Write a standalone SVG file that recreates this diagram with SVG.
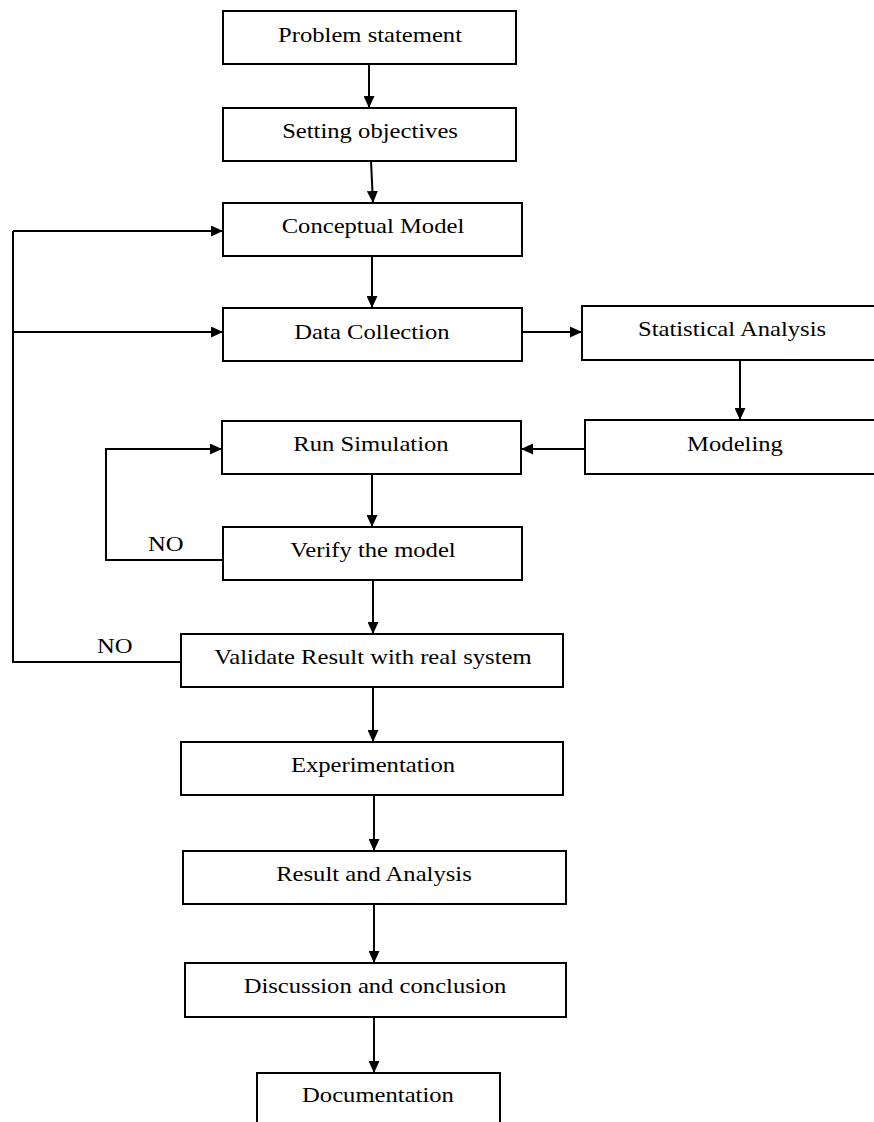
<svg xmlns="http://www.w3.org/2000/svg" width="874" height="1122" viewBox="0 0 874 1122">
<defs>
<marker id="ah" markerWidth="12" markerHeight="11" refX="12" refY="5.5" orient="auto" markerUnits="userSpaceOnUse">
<path d="M0,0 L12,5.5 L0,11 Z" fill="#000"/>
</marker>
<style>
.box{fill:#fff;stroke:#000;stroke-width:2}
.t{font-family:"Liberation Serif","Times New Roman",serif;font-size:22px;fill:#000;text-anchor:middle}
.lbl{font-family:"Liberation Serif","Times New Roman",serif;font-size:22px;fill:#000}
.c{fill:none;stroke:#000;stroke-width:2}
.a{marker-end:url(#ah)}
</style>
</defs>
<rect width="874" height="1122" fill="#fff"/>
<g id="connectors">
<line class="c a" x1="369" y1="64" x2="369" y2="108"/>
<line class="c a" x1="371" y1="161" x2="373" y2="203"/>
<line class="c a" x1="372" y1="256" x2="372" y2="308"/>
<polyline class="c" points="181,662 13,662 13,231"/>
<line class="c a" x1="13" y1="231" x2="223" y2="231"/>
<line class="c a" x1="13" y1="332" x2="223" y2="332"/>
<line class="c a" x1="522" y1="332" x2="582" y2="332"/>
<line class="c a" x1="740" y1="360" x2="740" y2="420"/>
<line class="c a" x1="585" y1="449" x2="521" y2="449"/>
<polyline class="c a" points="223,560 106,560 106,449 222,449"/>
<line class="c a" x1="372" y1="474" x2="372" y2="527"/>
<line class="c a" x1="373" y1="580" x2="373" y2="634"/>
<line class="c a" x1="373" y1="687" x2="373" y2="742"/>
<line class="c a" x1="374" y1="795" x2="374" y2="851"/>
<line class="c a" x1="374" y1="904" x2="374" y2="963"/>
<line class="c a" x1="374" y1="1017" x2="374" y2="1073"/>
<text class="lbl" transform="scale(1.12,1)" x="132.1" y="551">NO</text>
<text class="lbl" transform="scale(1.12,1)" x="86.6" y="653">NO</text>
</g>
<g id="n1"><rect class="box" x="223" y="11" width="293" height="53"/><text class="t" transform="scale(1.12,1)" x="330.4" y="42">Problem statement</text></g>
<g id="n2"><rect class="box" x="223" y="108" width="293" height="53"/><text class="t" transform="scale(1.12,1)" x="330.4" y="138">Setting objectives</text></g>
<g id="n3"><rect class="box" x="223" y="203" width="299" height="53"/><text class="t" transform="scale(1.12,1)" x="333.0" y="233">Conceptual Model</text></g>
<g id="n4"><rect class="box" x="223" y="308" width="299" height="53"/><text class="t" transform="scale(1.12,1)" x="332.1" y="339">Data Collection</text></g>
<g id="n5"><rect class="box" x="582" y="306" width="300" height="54"/><text class="t" transform="scale(1.12,1)" x="653.6" y="336">Statistical Analysis</text></g>
<g id="n6"><rect class="box" x="585" y="420" width="300" height="54"/><text class="t" transform="scale(1.12,1)" x="656.25" y="451">Modeling</text></g>
<g id="n7"><rect class="box" x="222" y="421" width="299" height="53"/><text class="t" transform="scale(1.12,1)" x="331.25" y="451">Run Simulation</text></g>
<g id="n8"><rect class="box" x="223" y="527" width="299" height="53"/><text class="t" transform="scale(1.12,1)" x="333.0" y="557">Verify the model</text></g>
<g id="n9"><rect class="box" x="181" y="634" width="382" height="53"/><text class="t" transform="scale(1.12,1)" x="333.0" y="664">Validate Result with real system</text></g>
<g id="n10"><rect class="box" x="181" y="742" width="382" height="53"/><text class="t" transform="scale(1.12,1)" x="333.0" y="772">Experimentation</text></g>
<g id="n11"><rect class="box" x="183" y="851" width="383" height="53"/><text class="t" transform="scale(1.12,1)" x="333.9" y="881">Result and Analysis</text></g>
<g id="n12"><rect class="box" x="185" y="963" width="381" height="54"/><text class="t" transform="scale(1.12,1)" x="334.8" y="993">Discussion and conclusion</text></g>
<g id="n13"><rect class="box" x="257" y="1073" width="243" height="60"/><text class="t" transform="scale(1.12,1)" x="337.5" y="1102">Documentation</text></g>
</svg>
